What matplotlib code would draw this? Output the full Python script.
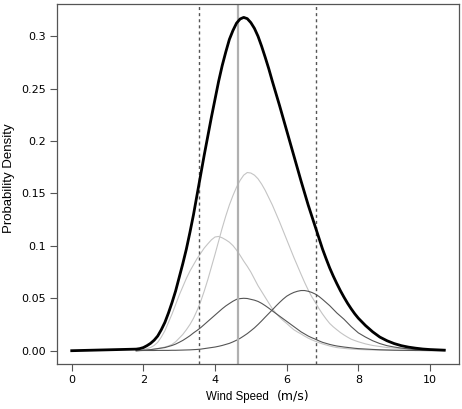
import matplotlib

matplotlib.use("Agg")
import matplotlib.pyplot as plt

# wind speed grid (m/s) the curves were read at: 0.1 steps to 8, then 0.2 steps
speed = [1.8, 1.9, 2.0, 2.1, 2.2, 2.3, 2.4, 2.5, 2.6, 2.7,
         2.8, 2.9, 3.0, 3.1, 3.2, 3.3, 3.4, 3.5, 3.6, 3.7,
         3.8, 3.9, 4.0, 4.1, 4.2, 4.3, 4.4, 4.5, 4.6, 4.7,
         4.8, 4.9, 5.0, 5.1, 5.2, 5.3, 5.4, 5.5, 5.6, 5.7,
         5.8, 5.9, 6.0, 6.1, 6.2, 6.3, 6.4, 6.5, 6.6, 6.7,
         6.8, 6.9, 7.0, 7.1, 7.2, 7.3, 7.4, 7.5, 7.6, 7.7,
         7.8, 7.9, 8.0,
         8.2, 8.4, 8.6, 8.8, 9.0, 9.2, 9.4, 9.6, 9.8, 10.0, 10.2, 10.4]

# predictive density (thick black); it also has a point at 0
bma_speed = [0.0] + speed
bma_pdf = [0.0,
           0.0015, 0.002, 0.003, 0.0048, 0.007, 0.010, 0.014, 0.020, 0.027, 0.036,
           0.046, 0.057, 0.070, 0.083, 0.097, 0.113, 0.130, 0.149, 0.168, 0.187,
           0.205, 0.223, 0.240, 0.257, 0.272, 0.285, 0.297, 0.3055, 0.3125, 0.3165,
           0.318, 0.3168, 0.313, 0.3075, 0.300, 0.2905, 0.280, 0.269, 0.257, 0.2455,
           0.234, 0.222, 0.210, 0.198, 0.186, 0.174, 0.162, 0.1505, 0.139, 0.1285,
           0.118, 0.1075, 0.097, 0.0878, 0.079, 0.0712, 0.064, 0.0572, 0.051, 0.0452,
           0.040, 0.0352, 0.031,
           0.024, 0.018, 0.013, 0.0095, 0.0068, 0.0048, 0.0034, 0.0024, 0.0016,
           0.0011, 0.0008, 0.0005]

# member components
comp_tall = [0.0, 0.0002, 0.0005, 0.0007, 0.001, 0.0015, 0.002, 0.0027, 0.0035, 0.0045,
             0.006, 0.0085, 0.012, 0.0155, 0.020, 0.025, 0.031, 0.0385, 0.047, 0.057,
             0.068, 0.080, 0.092, 0.1045, 0.117, 0.1285, 0.139, 0.148, 0.156, 0.1625,
             0.1675, 0.170, 0.1695, 0.1675, 0.164, 0.159, 0.153, 0.146, 0.139, 0.131,
             0.123, 0.1145, 0.106, 0.0975, 0.089, 0.081, 0.073, 0.0652, 0.058, 0.0515,
             0.046, 0.0402, 0.035, 0.0303, 0.026, 0.0228, 0.020, 0.0173, 0.015, 0.0129,
             0.011, 0.0097, 0.0085,
             0.0065, 0.005, 0.004, 0.003, 0.0025, 0.002, 0.0015, 0.001, 0.0008,
             0.0006, 0.0004, 0.0003]
comp_mid = [0.0, 0.0004, 0.001, 0.002, 0.003, 0.005, 0.008, 0.013, 0.019, 0.027,
            0.035, 0.044, 0.053, 0.061, 0.069, 0.076, 0.082, 0.088, 0.093, 0.098,
            0.102, 0.1058, 0.1085, 0.109, 0.1077, 0.1058, 0.1035, 0.1003, 0.096, 0.091,
            0.0855, 0.0805, 0.075, 0.0685, 0.062, 0.0565, 0.051, 0.0455, 0.040, 0.0358,
            0.032, 0.0288, 0.026, 0.0229, 0.020, 0.0179, 0.016, 0.0139, 0.012, 0.0104,
            0.009, 0.0077, 0.0065, 0.0055, 0.0045, 0.0037, 0.003, 0.0026, 0.0022, 0.0019,
            0.0016, 0.0014, 0.0012,
            0.0009, 0.0007, 0.0005, 0.0004, 0.0003, 0.0002, 0.0002, 0.0002, 0.0001,
            0.0001, 0.0001, 0.0001]
comp_low = [0.0, 0.0002, 0.0005, 0.0007, 0.001, 0.0015, 0.002, 0.0025, 0.003, 0.004,
            0.005, 0.0063, 0.008, 0.0098, 0.012, 0.0143, 0.017, 0.0194, 0.022, 0.025,
            0.028, 0.031, 0.034, 0.037, 0.040, 0.0427, 0.045, 0.0472, 0.049, 0.0497,
            0.050, 0.0498, 0.049, 0.0482, 0.047, 0.0452, 0.043, 0.0406, 0.038, 0.0355,
            0.033, 0.0305, 0.028, 0.0255, 0.023, 0.0205, 0.018, 0.016, 0.014, 0.0124,
            0.011, 0.0094, 0.008, 0.007, 0.006, 0.0052, 0.0045, 0.004, 0.0035, 0.0031,
            0.0027, 0.0023, 0.002,
            0.0016, 0.0012, 0.0009, 0.0007, 0.0005, 0.0004, 0.0003, 0.0002, 0.0002,
            0.0001, 0.0001, 0.0001]
comp_right = [0.0, 0.0001, 0.0002, 0.0002, 0.0002, 0.0002, 0.0003, 0.0003, 0.0003, 0.0003,
              0.0004, 0.0004, 0.0005, 0.0006, 0.0007, 0.0008, 0.001, 0.0012, 0.0015, 0.002,
              0.0025, 0.003, 0.0035, 0.0042, 0.005, 0.006, 0.007, 0.0084, 0.010, 0.0118,
              0.014, 0.0163, 0.019, 0.0218, 0.025, 0.0284, 0.032, 0.0355, 0.039, 0.0426,
              0.046, 0.0492, 0.052, 0.054, 0.0556, 0.0567, 0.0574, 0.0574, 0.0567, 0.0556,
              0.054, 0.0518, 0.049, 0.046, 0.043, 0.0395, 0.036, 0.033, 0.030, 0.0265,
              0.023, 0.020, 0.017,
              0.013, 0.0095, 0.0068, 0.0048, 0.0035, 0.0025, 0.0017, 0.0012, 0.0008,
              0.0005, 0.0003, 0.0002]

# reference lines: interval bounds (dashed) and the observation (gray)
interval = [3.55, 6.82]
observed = 4.63

x_ticks = [0, 2, 4, 6, 8, 10]
y_ticks = [0.0, 0.05, 0.1, 0.15, 0.2, 0.25, 0.3]
y_tick_labels = ["0.00", "0.05", "0.1", "0.15", "0.2", "0.25", "0.3"]

fig = plt.figure(figsize=(4.62, 4.09), dpi=100)
ax = fig.add_axes([0.123, 0.110, 0.871, 0.880])

for comp in (comp_tall, comp_mid):
    ax.plot(speed, comp, color="#c4c4c4", lw=0.8)
for comp in (comp_low, comp_right):
    ax.plot(speed, comp, color="#555555", lw=0.8)

ax.axvline(observed, color="#b0b0b0", lw=1.6)
for v in interval:
    ax.axvline(v, color="#555555", lw=1.0, linestyle=(0, (2.2, 2.2)))

ax.plot(bma_speed, bma_pdf, color="black", lw=2.0, solid_joinstyle="round")

ax.set_xlim(-0.416, 10.816)
ax.set_ylim(-0.0127, 0.3307)
ax.set_xticks(x_ticks)
ax.set_yticks(y_ticks)
ax.set_yticklabels(y_tick_labels)
ax.tick_params(direction="out", length=5, width=0.8, color="#555555",
               labelsize=8, pad=3)
for s in ax.spines.values():
    s.set_color("#555555")
    s.set_linewidth(0.9)

ax.set_ylabel("Probability Density", fontsize=9.5, family="Liberation Sans")
ax.yaxis.set_label_coords(-0.104, 0.515)

fig.text(0.513, 0.029, "Wind Speed", fontsize=8.3, family="Liberation Sans",
         ha="center", va="center")
fig.text(0.634, 0.031, "(m/s)", fontsize=9, ha="center", va="center")

fig.savefig("out.png", dpi=100)
